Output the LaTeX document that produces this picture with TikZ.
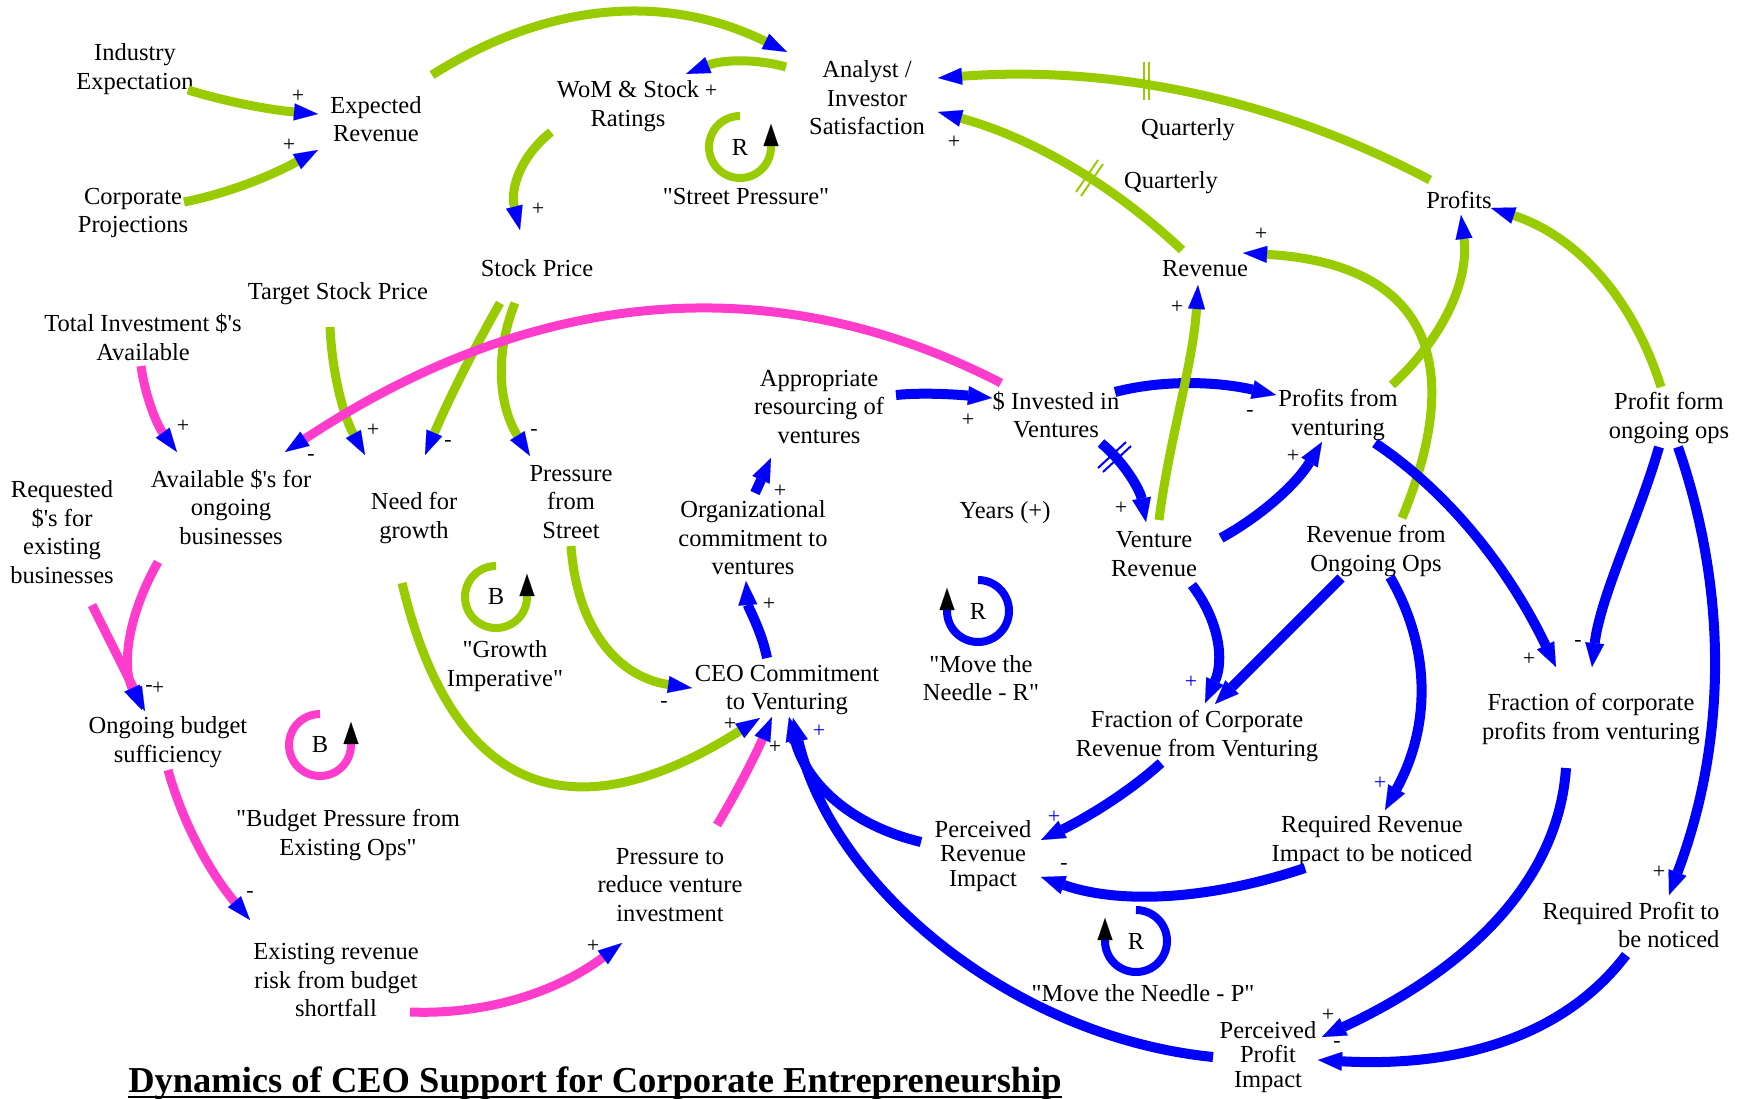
\documentclass[tikz,border=0pt]{standalone}
\usepackage{fontspec}
\setmainfont{Liberation Serif}[Ligatures=TeXOff]
\usetikzlibrary{arrows.meta,calc}
\definecolor{lgreen}{RGB}{153,204,0}
\definecolor{lpink}{RGB}{255,60,204}
\newcommand\fsmain{\fontsize{24.5}{28.5}\selectfont}
\newcommand\fstight{\fontsize{24.5}{24.5}\selectfont}
\newcommand\fspol{\fontsize{22}{24}\selectfont}
\newcommand\loopccw[2]{\draw[line width=8pt,draw=#2,-{Triangle[length=22pt,width=15pt,color=black,line width=0.1pt]}] (#1) ++(0,-31) arc[start angle=-90,end angle=-360,radius=31] -- ++(0,-23);}
\newcommand\loopcw[2]{\draw[line width=8pt,draw=#2,-{Triangle[length=22pt,width=15pt,color=black,line width=0.1pt]}] (#1) ++(0,-31) arc[start angle=-90,end angle=180,radius=31] -- ++(0,-23);}
\begin{document}
\begin{tikzpicture}[x=1pt,y=-1pt,
  txt/.style={font=\fsmain,align=center,inner sep=0pt},
  tight/.style={font=\fstight},
  pol/.style={font=\fspol,inner sep=0pt},
  bpol/.style={font=\fspol,inner sep=0pt,text=blue},
  gline/.style={line width=9pt,draw=lgreen,-{Triangle[length=24pt,width=17pt,color=blue,line width=0.1pt]}},
  pline/.style={line width=9pt,draw=lpink,-{Triangle[length=24pt,width=17pt,color=blue,line width=0.1pt]}},
  bline/.style={line width=10pt,draw=blue,-{Triangle[length=24pt,width=19pt,color=blue,line width=0.1pt]}},
  delayg/.style={draw=lgreen,line width=2pt},
  delayb/.style={draw=blue,line width=2pt}]
\fill[white] (0,0) rectangle (1748,1098);
\useasboundingbox (0,0) rectangle (1748,1098);

% ---------------- variables ----------------
\node[txt] (ind) at (135,69) {Industry\\Expectation};
\node[txt] (exprev) at (376,119) {Expected\\Revenue};
\node[txt] (corp) at (133,213) {Corporate\\Projections};
\node[txt] (wom) at (628,106) {WoM \& Stock\\Ratings};
\node[txt] (anal) at (867,98) {Analyst /\\Investor\\Satisfaction};
\node[txt] (q1) at (1188,130) {Quarterly};
\node[txt] (q2) at (1171,183) {Quarterly};
\node[txt] (profits) at (1459,200) {Profits};
\node[txt] (revenue) at (1205,269) {Revenue};
\node[txt] (stock) at (537,268) {Stock Price};
\node[txt] (target) at (338,294) {Target Stock Price};
\node[txt] (total) at (143,337) {Total Investment \$'s\\Available};
\node[txt] (avail) at (231,507) {Available \$'s for\\ongoing\\businesses};
\node[txt] (req) at (62,532) {Requested\\\$'s for\\existing\\businesses};
\node[txt] (need) at (414,518) {Need for\\growth};
\node[txt] (pfs) at (571,502) {Pressure\\from\\Street};
\node[txt] (approp) at (819,407) {Appropriate\\resourcing of\\ventures};
\node[txt] (invested) at (1056,415) {\$ Invested in\\Ventures};
\node[txt] (pfv) at (1338,415) {Profits from\\venturing};
\node[txt] (pfo) at (1669,418) {Profit form\\ongoing ops};
\node[txt] (years) at (1005,513) {Years (+)};
\node[txt] (org) at (753,538) {Organizational\\commitment to\\ventures};
\node[txt] (vrev) at (1154,554) {Venture\\Revenue};
\node[txt] (rfo) at (1376,551) {Revenue from\\Ongoing Ops};
\node[txt] (ceo) at (787,690) {CEO Commitment\\to Venturing};
\node[txt] (fcr) at (1197,736) {Fraction of Corporate\\Revenue from Venturing};
\node[txt] (fcp) at (1591,719) {Fraction of corporate\\profits from venturing};
\node[txt] (obs) at (168,742) {Ongoing budget\\sufficiency};
\node[txt,tight] (pri) at (983,856) {Perceived\\Revenue\\Impact};
\node[txt] (rri) at (1372,841) {Required Revenue\\Impact to be noticed};
\node[txt] (ptr) at (670,885) {Pressure to\\reduce venture\\investment};
\node[txt] (err) at (336,980) {Existing revenue\\risk from budget\\shortfall};
\node[txt,align=right] (rpn) at (1631,925) {Required Profit to\\be noticed};
\node[txt,tight] (ppi) at (1268,1057) {Perceived\\Profit\\Impact};

% ---------------- loop symbols ----------------
\loopccw{740,147}{lgreen}
\node[txt] (lsp) at (740,147) {R};
\node[txt] (lsplab) at (746,197) {"Street Pressure"};
\loopccw{496,597}{lgreen}
\node[txt] (lgi) at (496,597) {B};
\node[txt] (lgilab) at (505,666) {"Growth\\Imperative"};
\loopccw{320,745}{lpink}
\node[txt] (lbp) at (320,745) {B};
\node[txt] (lbplab) at (348,835) {"Budget Pressure from\\Existing Ops"};
\loopcw{978,611}{blue}
\node[txt] (lmr) at (978,611) {R};
\node[txt] (lmrlab) at (981,678) {"Move the\\Needle - R"};
\loopcw{1136,941}{blue}
\node[txt] (lmp) at (1136,941) {R};
\node[txt] (lmplab) at (1143,993) {"Move the Needle - P"};

% ---------------- connectors ----------------
\draw[gline] ($(ind)+(53,21)$) .. controls +(39,12) and +(-47,-4) .. ($(exprev)+(-58,-5)$);
\draw[gline] ($(corp)+(51,-11)$) .. controls +(41,-8) and +(-49,27) .. ($(exprev)+(-58,31)$);
\draw[gline] ($(exprev)+(56,-44)$) .. controls +(117,-74) and +(-120,-59) .. ($(anal)+(-80,-46)$);
\draw[gline] ($(anal)+(-81,-31)$) .. controls +(-32,-9) and +(35,-14) .. ($(wom)+(58,-32)$);
\draw[gline] ($(wom)+(-77,26)$) .. controls +(-31,25) and +(-10,-41) .. ($(stock)+(-17,-38)$);
\draw[gline] ($(target)+(-8,33)$) .. controls +(2,45) and +(-22,-40) .. ($(need)+(-49,-63)$);
\draw[pline] ($(total)+(-2,29)$) .. controls +(4,30) and +(-20,-27) .. ($(avail)+(-54,-55)$);
\draw[gline] ($(stock)+(-37,35)$) .. controls +(-28,49) and +(22,-52) .. ($(need)+(11,-63)$);
\draw[gline] ($(stock)+(-22,35)$) .. controls +(-21,52) and +(-31,-50) .. ($(pfs)+(-41,-46)$);
\draw[pline] ($(invested)+(-55,-32)$) .. controls +(-229,-118) and +(248,-164) .. ($(avail)+(54,-55)$);
\draw[pline] ($(req)+(30,73)$) -- ($(obs)+(-23,-31)$);
\draw[pline] ($(avail)+(-73,55)$) .. controls +(-31,55) and +(-20,-44) .. ($(obs)+(-26,-32)$);
\draw[pline] ($(obs)+(0,28)$) .. controls +(15,54) and +(-39,-46) .. ($(err)+(-86,-60)$);
\draw[pline] ($(err)+(74,32)$) .. controls +(76,3) and +(-65,49) .. ($(ptr)+(-48,58)$);
\draw[pline] ($(ptr)+(47,-60)$) .. controls +(21,-35) and +(-16,37) .. ($(ceo)+(-15,27)$);
\draw[gline] ($(need)+(-12,65)$) .. controls +(50,210) and +(-189,120) .. ($(ceo)+(-27,28)$);
\draw[gline] ($(pfs)+(0,44)$) .. controls +(6,83) and +(-74,-11) .. ($(ceo)+(-95,-2)$);
\draw[bline] ($(ceo)+(-20,-32)$) .. controls +(-5,-26) and +(2,26) .. ($(org)+(-7,43)$);
\draw[bline] ($(org)+(2,-45)$) -- ($(approp)+(-48,51)$);
\draw[bline] ($(approp)+(77,-12)$) .. controls +(30,-3) and +(-30,-3) .. ($(invested)+(-64,-17)$);
\draw[bline] ($(invested)+(59,-23)$) .. controls +(46,-12) and +(-61,-14) .. ($(pfv)+(-62,-20)$);
\draw[bline] ($(invested)+(45,28)$) .. controls +(24,20) and +(-6,-32) .. ($(vrev)+(-8,-32)$);
\draw[gline] ($(vrev)+(5,-34)$) .. controls +(10,-80) and +(-5,80) .. ($(revenue)+(-7,16)$);
\draw[bline] ($(vrev)+(67,-16)$) .. controls +(42,-23) and +(-25,41) .. ($(pfv)+(-16,27)$);
\draw[gline] ($(pfv)+(54,-30)$) .. controls +(54,-50) and +(8,63) .. ($(profits)+(2,15)$);
\draw[gline] ($(rfo)+(26,-33)$) .. controls +(69,-166) and +(175,10) .. ($(revenue)+(38,-16)$);
\draw[gline] ($(revenue)+(-23,-19)$) .. controls +(-71,-67) and +(92,25) .. ($(anal)+(71,14)$);
\draw[gline] ($(profits)+(-29,-20)$) .. controls +(-153,-81) and +(175,-13) .. ($(anal)+(71,-20)$);
\draw[gline] ($(pfo)+(-8,-31)$) .. controls +(-29,-91) and +(85,28) .. ($(profits)+(32,8)$);
\draw[bline] ($(pfo)+(-10,29)$) .. controls +(-20,70) and +(8,-70) .. ($(fcp)+(1,-52)$);
\draw[bline] ($(pfo)+(9,29)$) .. controls +(51,148) and +(57,-151) .. ($(rpn)+(38,-30)$);
\draw[bline] ($(pfv)+(37,28)$) .. controls +(73,49) and +(-48,-100) .. ($(fcp)+(-35,-52)$);
\draw[bline] ($(vrev)+(38,31)$) .. controls +(28,37) and +(19,-42) .. ($(fcr)+(8,-33)$);
\draw[bline] ($(rfo)+(-35,27)$) -- ($(fcr)+(18,-32)$);
\draw[bline] ($(rfo)+(14,26)$) .. controls +(42,73) and +(45,-82) .. ($(rri)+(13,-31)$);
\draw[bline] ($(fcr)+(-36,27)$) .. controls +(-31,28) and +(49,-24) .. ($(pri)+(58,-16)$);
\draw[bline] ($(rri)+(-67,27)$) .. controls +(-99,33) and +(77,27) .. ($(pri)+(58,21)$);
\draw[bline] ($(pri)+(-62,-14)$) .. controls +(-71,-17) and +(17,66) .. ($(ceo)+(2,27)$);
\draw[bline] ($(ppi)+(-55,0)$) .. controls +(-200,-20) and +(40,170) .. ($(ceo)+(6,28)$);
\draw[bline] ($(fcp)+(-25,49)$) .. controls +(-7,106) and +(156,-73) .. ($(ppi)+(54,-20)$);
\draw[bline] ($(rpn)+(-5,30)$) .. controls +(-59,78) and +(147,8) .. ($(ppi)+(50,3)$);

% ---------------- delay marks ----------------
\draw[delayg] (1144,62) -- (1144,100) (1149,62) -- (1149,100);
\draw[delayg] (1076,192) -- (1098,160) (1081,196) -- (1103,164);
\draw[delayb] (1098,468) -- (1126,442) (1103,472) -- (1131,446);

% ---------------- polarities ----------------
\node[pol] (s1) at (298,96) {+};
\node[pol] (s2) at (289,145) {+};
\node[pol] (s3) at (711,91) {+};
\node[pol] (s4) at (538,209) {+};
\node[pol] (s5) at (373,430) {+};
\node[pol] (s6) at (183,426) {+};
\node[pol] (s7) at (448,443) {-};
\node[pol] (s8) at (534,432) {-};
\node[pol] (s9) at (311,457) {-};
\node[pol] (s10) at (149,688) {-};
\node[pol] (s11) at (158,688) {+};
\node[pol] (s12) at (250,894) {-};
\node[pol] (s13) at (593,946) {+};
\node[pol] (s14) at (775,747) {+};
\node[pol] (s15) at (730,724) {+};
\node[pol] (s16) at (664,704) {-};
\node[pol] (s17) at (769,604) {+};
\node[pol] (s18) at (780,491) {+};
\node[pol] (s19) at (968,420) {+};
\node[pol] (s20) at (1250,413) {-};
\node[pol] (s21) at (1121,508) {+};
\node[pol] (s22) at (1177,307) {+};
\node[pol] (s23) at (1293,456) {+};
\node[pol] (s24) at (1261,234) {+};
\node[pol] (s25) at (954,142) {+};
\node[pol] (s26) at (1578,643) {-};
\node[pol] (s27) at (1659,872) {+};
\node[pol] (s28) at (1529,659) {+};
\node[bpol] (s29) at (1191,682) {+};
\node[bpol] (s30) at (1380,783) {+};
\node[bpol] (s31) at (1054,817) {+};
\node[pol] (s32) at (1064,866) {-};
\node[bpol] (s33) at (819,731) {+};
\node[pol] (s34) at (1328,1015) {+};
\node[pol] (s35) at (1337,1044) {-};

% ---------------- title ----------------
\node[font=\fontsize{36.5}{40}\selectfont\bfseries,anchor=base,inner sep=0pt] (title) at (595,1092) {Dynamics of CEO Support for Corporate Entrepreneurship};
\draw[line width=2.2pt] ([yshift=-5pt]title.base west) -- ([yshift=-5pt]title.base east);
\end{tikzpicture}
\end{document}
